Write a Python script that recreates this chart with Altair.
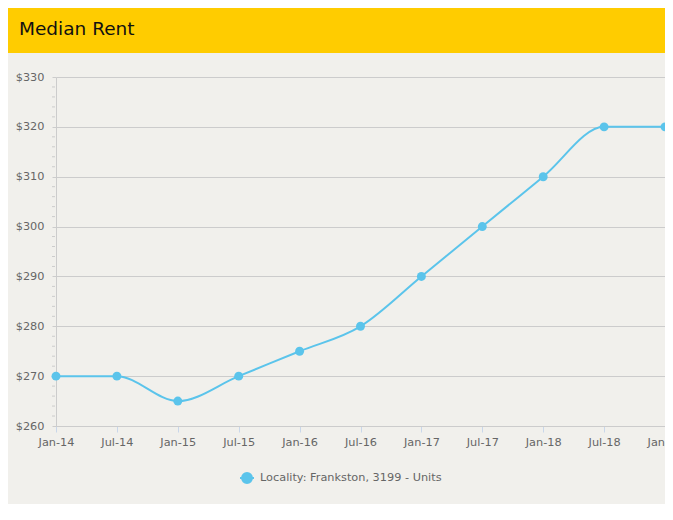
import altair as alt
import pandas as pd

# ---- data ----
periods = ["Jan-14", "Jul-14", "Jan-15", "Jul-15", "Jan-16", "Jul-16",
           "Jan-17", "Jul-17", "Jan-18", "Jul-18", "Jan-19"]
rents = [270, 270, 265, 270, 275, 280, 290, 300, 310, 320, 320]
series_name = "Locality: Frankston, 3199 - Units"
major_y = [260, 270, 280, 290, 300, 310, 320, 330]
minor_y = [262, 264, 266, 268, 272, 274, 276, 278, 282, 284, 286, 288,
           292, 294, 296, 298, 302, 304, 306, 308, 312, 314, 316, 318,
           322, 324, 326, 328]
chart_title = "Median Rent"

df = pd.DataFrame({"period": periods, "rent": rents, "series": [series_name] * len(periods)})
minor_df = pd.DataFrame({"rent": minor_y})

W, H = 609, 349
PAD = {"left": 48, "top": 69, "right": 0, "bottom": 78}
BLUE = "#5bc4eb"
FONT = "DejaVu Sans"
FS = 11.3

x_enc = alt.X("period:O", sort=periods,
              scale=alt.Scale(type="point", padding=0),
              axis=alt.Axis(title=None, labelAngle=0, labelFont=FONT, labelFontSize=FS,
                            labelColor="#666666", domainColor="#cccccc", tickColor="#c9d7ea",
                            tickSize=6, labelPadding=4, grid=False))
y_axis = alt.Axis(title=None, values=major_y, labelExpr="'$' + datum.value",
                  labelFont=FONT, labelFontSize=FS, labelColor="#666666",
                  domainColor="#cccccc", tickColor="#cccccc", tickSize=4,
                  labelPadding=8, gridColor="#cccccc", grid=True)
y_scale = alt.Scale(domain=[260, 330], nice=False, zero=False)
y_enc = alt.Y("rent:Q", scale=y_scale, axis=y_axis)

color_enc = alt.Color("series:N", scale=alt.Scale(range=[BLUE]),
                      legend=alt.Legend(title=None, orient="none", legendX=183, legendY=393,
                                        symbolType="M-1,0L1,0M-0.71,0A0.71,0.71 0 1,0 0.71,0A0.71,0.71 0 1,0 -0.71,0",
                                        symbolSize=196, symbolStrokeWidth=2,
                                        symbolFillColor=BLUE, symbolStrokeColor=BLUE,
                                        labelFont=FONT, labelFontSize=FS, labelColor="#666666",
                                        labelOffset=5, labelLimit=0))

base = alt.Chart(df)
line = base.mark_line(interpolate="monotone", strokeWidth=2).encode(x=x_enc, y=y_enc, color=color_enc)
pts = base.mark_point(filled=True, size=80, opacity=1).encode(x=x_enc, y=y_enc, color=color_enc)

minor = alt.Chart(minor_df).mark_rule(color="#cccccc").encode(
    y=alt.Y("rent:Q", scale=y_scale, axis=y_axis), x=alt.value(-4), x2=alt.value(-1))

band = alt.Chart(pd.DataFrame({"t": [chart_title]})).mark_rect(color="#ffcc00").encode(
    x=alt.value(-PAD["left"]), x2=alt.value(W + PAD["right"]),
    y=alt.value(-PAD["top"]), y2=alt.value(-24))
title = alt.Chart(pd.DataFrame({"t": [chart_title]})).mark_text(
    align="left", baseline="alphabetic", font=FONT, fontSize=18.5, color="#111111").encode(
    text="t:N", x=alt.value(-37), y=alt.value(-42))

chart = alt.layer(band, title, minor, line, pts).properties(
    width=W, height=H, padding=PAD, background="#f1f0ec",
    autosize=alt.AutoSizeParams(type="none")
).configure_view(stroke=None, fill="#f1f0ec")

chart.save("out.html", embed_options={"renderer": "svg", "actions": False})
